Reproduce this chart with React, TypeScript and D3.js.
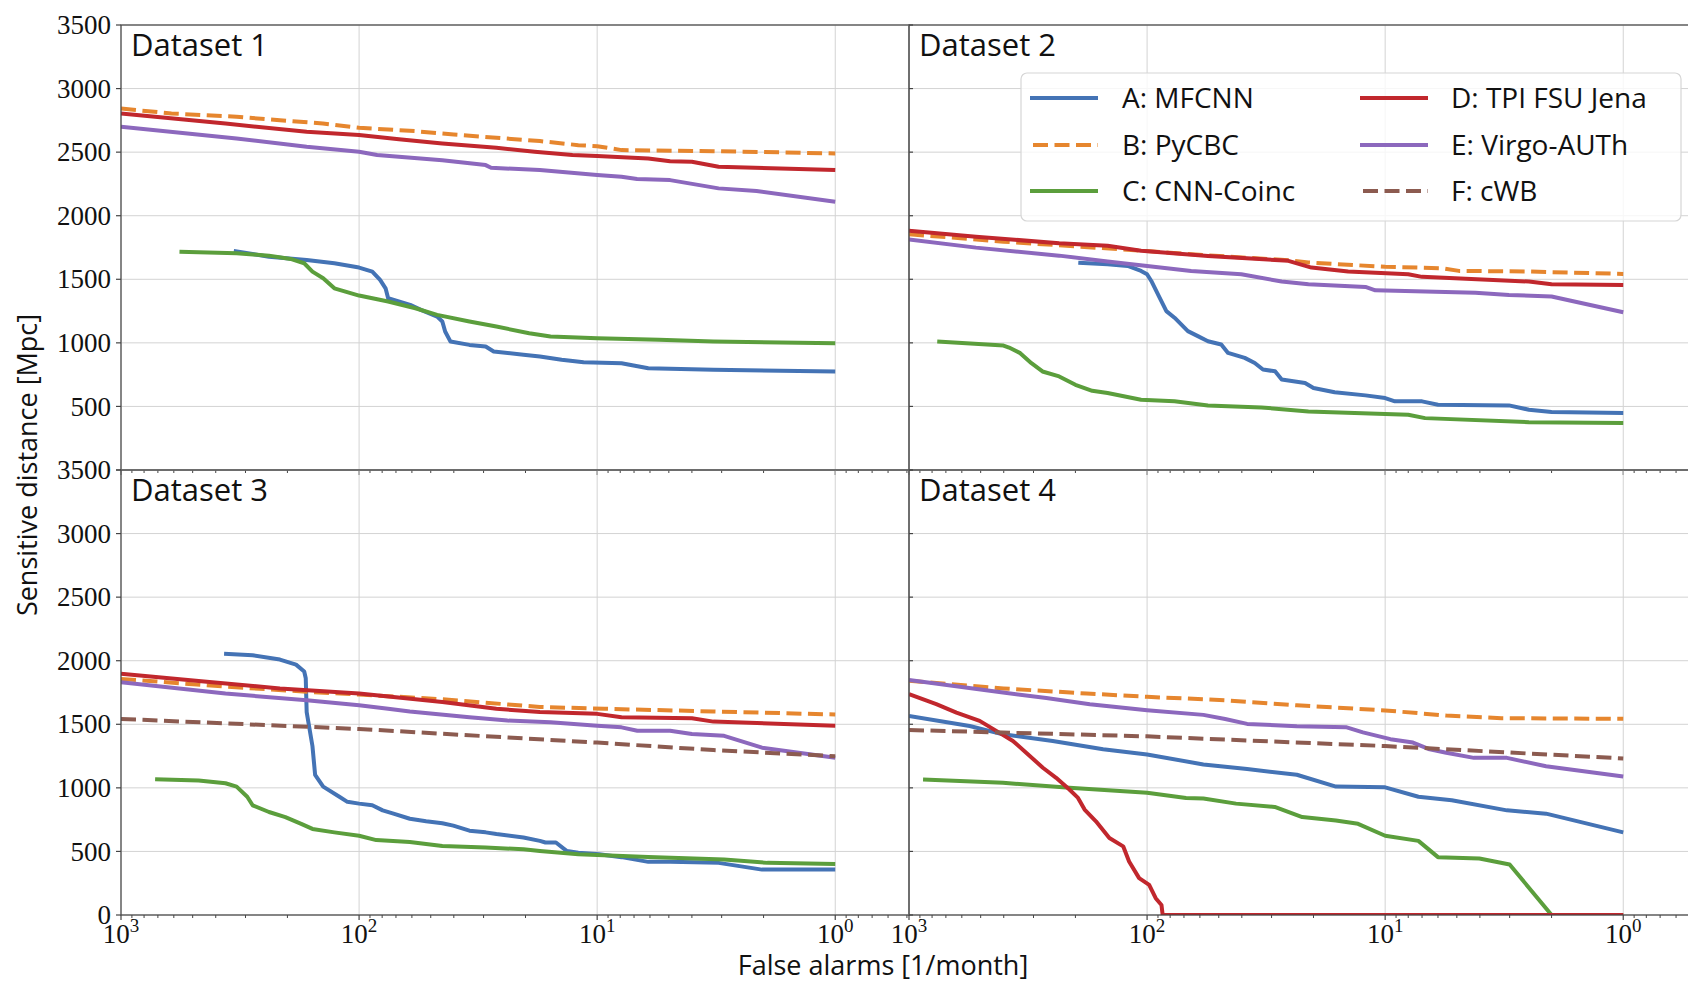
import React from 'react';
import * as d3 from 'd3';

type Pt = [number, number];

// legend / series metadata
const methods = ['A: MFCNN', 'B: PyCBC', 'C: CNN-Coinc', 'D: TPI FSU Jena', 'E: Virgo-AUTh', 'F: cWB'];
const colors = ['#4473b5', '#e6862e', '#5b9e3c', '#c1272d', '#8c68bd', '#8c5b50'];
const dashed = [false, true, false, false, false, true];

const panelTitles = ['Dataset 1', 'Dataset 2', 'Dataset 3', 'Dataset 4'];
const yTicks = [0, 500, 1000, 1500, 2000, 2500, 3000, 3500];
const xTicks = [1000, 100, 10, 1];
const xTickExp = ['3', '2', '1', '0'];

// Dataset 1 (false alarms per month, sensitive distance Mpc)
const d1A: Pt[] = [[336, 1723], [239, 1678], [166, 1652], [127, 1626], [100, 1592], [88, 1560], [81.6, 1495], [77.4, 1429], [75.5, 1351], [61, 1299], [55, 1259], [47, 1207], [44.7, 1168], [43.5, 1089], [41.3, 1010], [34.4, 984], [29.4, 971], [27.2, 932], [20.4, 906], [17.4, 893], [14.1, 867], [11.4, 848], [7.9, 840], [6.1, 801], [3.25, 788], [1, 775]];
const d1B: Pt[] = [[1000, 2843], [614, 2804], [327, 2778], [215, 2751], [142, 2725], [100, 2691], [58, 2665], [40, 2639], [26.5, 2613], [17.4, 2587], [12, 2555], [10, 2547], [7.9, 2516], [3.25, 2508], [1, 2490]];
const d1C: Pt[] = [[568, 1717], [327, 1704], [239, 1686], [194, 1660], [170, 1626], [157, 1560], [141.5, 1508], [127, 1429], [100, 1372], [75.5, 1325], [58, 1272], [47, 1220], [34.4, 1168], [26.5, 1128], [19.3, 1076], [15.7, 1050], [10, 1037], [5.5, 1024], [3.25, 1010], [1, 997]];
const d1D: Pt[] = [[1000, 2804], [364, 2725], [166, 2660], [100, 2634], [68, 2602], [44.7, 2568], [26.5, 2534], [18.3, 2503], [12.7, 2477], [10, 2469], [6.1, 2450], [4.94, 2429], [4.0, 2424], [3.09, 2385], [1, 2359]];
const d1E: Pt[] = [[1000, 2699], [327, 2608], [166, 2542], [100, 2503], [84, 2477], [44.7, 2437], [29.4, 2398], [27.9, 2377], [17.4, 2359], [10, 2320], [7.9, 2306], [6.8, 2288], [4.94, 2280], [3.09, 2215], [2.14, 2194], [1, 2110]];

// Dataset 2
const d2A: Pt[] = [[194.5, 1631], [146.5, 1619], [120.6, 1605], [106, 1566], [100, 1540], [96, 1487], [90, 1382], [83, 1250], [76.7, 1198], [67.4, 1092], [61.2, 1053], [55.5, 1013], [48.8, 987], [45.7, 921], [38.9, 882], [35.3, 842], [32.6, 790], [29, 776], [27.2, 711], [21.7, 684], [20, 645], [16.3, 611], [12.1, 587], [10, 566], [9.1, 540], [7, 540], [6, 513], [3.02, 508], [2.49, 474], [2.0, 456], [1, 448]];
const d2B: Pt[] = [[1000, 1854], [401, 1796], [100, 1722], [55.5, 1688], [25.5, 1650], [21, 1632], [10, 1598], [5.77, 1587], [4.9, 1566], [2.49, 1561], [1, 1542]];
const d2C: Pt[] = [[761, 1010], [401, 979], [380, 963], [341, 919], [306, 840], [275, 775], [234, 736], [200, 670], [170, 623], [146.5, 605], [106, 553], [76.7, 540], [55.5, 508], [33.1, 492], [21, 461], [10, 440], [8.0, 434], [6.8, 408], [2.49, 376], [1, 369]];
const d2D: Pt[] = [[1000, 1882], [523, 1835], [234, 1783], [146.5, 1763], [106, 1724], [55.5, 1684], [25.5, 1645], [20.4, 1592], [14.3, 1561], [8.0, 1540], [7.0, 1519], [2.49, 1482], [2.0, 1461], [1, 1456]];
const d2E: Pt[] = [[1000, 1814], [523, 1749], [234, 1686], [146.5, 1640], [100, 1605], [65.3, 1566], [40.2, 1540], [27.2, 1482], [21, 1461], [12.1, 1440], [11, 1413], [4.18, 1395], [3.02, 1377], [2.0, 1364], [1, 1241]];

// Dataset 3
const d3A: Pt[] = [[369, 2054], [280, 2043], [215, 2009], [184, 1969], [170, 1915], [167.5, 1862], [166, 1596], [157, 1329], [153, 1103], [141.5, 1010], [121, 930], [112, 890], [100, 876], [88, 863], [79.6, 823], [71.7, 797], [61.2, 757], [52.3, 738], [44.7, 722], [40.2, 703], [34.4, 663], [29.4, 650], [26.5, 637], [20.4, 610], [17.4, 583], [16.5, 570], [14.9, 570], [13.4, 503], [12, 490], [9.8, 477], [7.9, 455], [6.1, 418], [4.94, 418], [3.09, 410], [2.03, 357], [1, 357]];
const d3B: Pt[] = [[1000, 1857], [364, 1796], [166, 1756], [100, 1734], [44.7, 1697], [17.4, 1636], [9.3, 1622], [3.25, 1601], [1, 1577]];
const d3C: Pt[] = [[719, 1068], [472, 1058], [364, 1036], [327, 1010], [295, 930], [280, 863], [239, 810], [204, 770], [175, 717], [157, 677], [127, 650], [100, 623], [84.7, 589], [61.2, 575], [44.7, 543], [29.4, 530], [20.4, 517], [17.4, 503], [12, 477], [6.1, 456], [2.93, 437], [1.93, 410], [1, 402]];
const d3D: Pt[] = [[1000, 1897], [472, 1841], [215, 1782], [100, 1742], [44.7, 1676], [26.5, 1622], [17.4, 1596], [10, 1582], [7.9, 1556], [4.0, 1548], [3.25, 1521], [1, 1489]];
const d3E: Pt[] = [[1000, 1830], [364, 1742], [166, 1689], [100, 1649], [75.5, 1622], [61.2, 1601], [34.4, 1556], [23.8, 1529], [15.7, 1516], [10, 1489], [7.9, 1476], [6.78, 1449], [4.94, 1449], [4.0, 1423], [2.93, 1409], [2.03, 1316], [1, 1236]];
const d3F: Pt[] = [[1000, 1542], [100, 1463], [10, 1356], [3.25, 1297], [1, 1249]];

// Dataset 4
const d4A: Pt[] = [[1000, 1566], [556, 1487], [403, 1421], [249, 1369], [153, 1303], [100, 1263], [58, 1184], [38, 1148], [23.5, 1103], [16.1, 1010], [10, 1004], [7.25, 930], [5.25, 903], [3.08, 823], [2.11, 797], [1, 650]];
const d4B: Pt[] = [[1000, 1842], [401, 1782], [179.5, 1742], [100, 1716], [47, 1689], [23.5, 1649], [10, 1609], [5.54, 1569], [3.25, 1548], [1, 1543]];
const d4C: Pt[] = [[873, 1066], [403, 1040], [212, 1000], [100, 961], [68.6, 921], [58, 916], [42.3, 876], [29.1, 850], [22.3, 770], [16.1, 743], [13, 717], [10, 623], [7.25, 583], [6.0, 455], [4.02, 444], [3.0, 397], [2.0, 0], [1, 0]];
const d4D: Pt[] = [[1000, 1737], [768, 1658], [632, 1592], [505, 1527], [430, 1448], [366, 1369], [322, 1277], [274, 1158], [241, 1079], [212, 987], [195, 921], [183, 829], [164, 737], [144, 605], [126, 540], [119, 421], [108, 290], [98, 237], [92, 132], [87, 79], [86, 0], [1, 0]];
const d4E: Pt[] = [[1000, 1848], [403, 1750], [265, 1706], [174, 1658], [100, 1611], [58, 1574], [47, 1542], [38, 1503], [23.5, 1484], [14.5, 1476], [12.4, 1436], [9.5, 1383], [7.64, 1356], [6.5, 1303], [5.54, 1276], [4.24, 1236], [3.08, 1236], [2.11, 1170], [1, 1090]];
const d4F: Pt[] = [[1000, 1455], [100, 1405], [10, 1329], [1, 1231]];

const datasets: (Pt[] | null)[][] = [
  [d1A, d1B, d1C, d1D, d1E, null],
  [d2A, d2B, d2C, d2D, d2E, null],
  [d3A, d3B, d3C, d3D, d3E, d3F],
  [d4A, d4B, d4C, d4D, d4E, d4F],
];

const W = 1696;
const H = 982;
const colX = [113, 901, 1689];
const rowY = [17, 462, 907];

const SANS = '"Open Sans", "Noto Sans", sans-serif';
const SERIF = '"Liberation Serif", "DejaVu Serif", serif';

// minor ticks of the log axis: 2..9 per decade, plus 0.5..0.9 below 1
const minorTicks: number[] = [];
[0.1, 1, 10, 100].forEach((dec) => {
  for (let m = 2; m <= 9; m++) {
    const v = m * dec;
    if (v >= 0.49 && v < 1000) minorTicks.push(v);
  }
});

const Panel: React.FC<{ idx: number }> = ({ idx }) => {
  const col = idx % 2;
  const row = Math.floor(idx / 2);
  const x0 = colX[col], x1 = colX[col + 1];
  const y0 = rowY[row], y1 = rowY[row + 1];

  const x = d3.scaleLog().domain([1000, 0.49]).range([x0, x1]);
  const y = d3.scaleLinear().domain([0, 3500]).range([y1, y0]);
  const line = d3.line<Pt>().x((d) => x(d[0])).y((d) => y(d[1]));
  const clipId = `clip-${idx}`;
  const shownY = row === 0 ? yTicks.filter((t) => t > 0) : yTicks;

  return (
    <g>
      <defs>
        <clipPath id={clipId}>
          <rect x={x0} y={y0} width={x1 - x0} height={y1 - y0} />
        </clipPath>
      </defs>
      {/* grid */}
      {xTicks.map((t) => (
        <line key={`gx${t}`} x1={x(t)} x2={x(t)} y1={y0} y2={y1} stroke="#d3d3d3" strokeWidth={1} />
      ))}
      {yTicks.map((t) => (
        <line key={`gy${t}`} x1={x0} x2={x1} y1={y(t)} y2={y(t)} stroke="#d3d3d3" strokeWidth={1} />
      ))}
      {/* series */}
      <g clipPath={`url(#${clipId})`}>
        {datasets[idx].map((data, i) =>
          data ? (
            <path
              key={i}
              d={line(data) || ''}
              fill="none"
              stroke={colors[i]}
              strokeWidth={4}
              strokeLinejoin="round"
              strokeDasharray={dashed[i] ? '15 6.5' : undefined}
            />
          ) : null
        )}
      </g>
      {/* frame */}
      <rect x={x0} y={y0} width={x1 - x0} height={y1 - y0} fill="none" stroke="#444" strokeWidth={1.2} />
      {/* x ticks */}
      {xTicks.map((t) => (
        <line key={`tx${t}`} x1={x(t)} x2={x(t)} y1={y1} y2={y1 + 5} stroke="#444" strokeWidth={1.2} />
      ))}
      {minorTicks.map((t) => (
        <line key={`mx${t}`} x1={x(t)} x2={x(t)} y1={y1} y2={y1 + 3} stroke="#444" strokeWidth={1} />
      ))}
      {/* y ticks */}
      {yTicks.map((t) =>
        col === 0 ? (
          <line key={`ty${t}`} x1={x0 - 5} x2={x0} y1={y(t)} y2={y(t)} stroke="#444" strokeWidth={1.2} />
        ) : (
          <line key={`ty${t}`} x1={x0} x2={x0 + 4} y1={y(t)} y2={y(t)} stroke="#444" strokeWidth={1.2} />
        )
      )}
      {col === 0 &&
        shownY.map((t) => (
          <text
            key={`ly${t}`}
            x={x0 - 10}
            y={y(t)}
            dy="0.34em"
            textAnchor="end"
            fontFamily={SERIF}
            fontSize={27}
            fill="#111"
          >
            {t}
          </text>
        ))}
      {row === 1 &&
        xTicks.map((t, i) => (
          <text key={`lx${t}`} x={x(t)} y={935} textAnchor="middle" fontFamily={SERIF} fontSize={27} fill="#111">
            10
            <tspan fontSize={19} dy={-11}>
              {xTickExp[i]}
            </tspan>
          </text>
        ))}
      <text x={x0 + 10} y={y0 + 31} fontFamily={SANS} fontSize={31} fill="#111">
        {panelTitles[idx]}
      </text>
    </g>
  );
};

const Legend: React.FC = () => {
  const lx = 1013, ly = 65, lw = 660, lh = 148;
  const colStart = [1022, 1352];
  const textStart = [1114, 1443];
  const rowC = [90, 137, 183];
  return (
    <g>
      <rect x={lx} y={ly} width={lw} height={lh} rx={6} fill="white" fillOpacity={0.8} stroke="#d6d6d6" strokeWidth={1.2} />
      {methods.map((m, i) => {
        const c = Math.floor(i / 3);
        const r = i % 3;
        return (
          <g key={m}>
            <line
              x1={colStart[c] + (dashed[i] ? 3 : 0)}
              x2={colStart[c] + 68}
              y1={rowC[r]}
              y2={rowC[r]}
              stroke={colors[i]}
              strokeWidth={4}
              strokeDasharray={dashed[i] ? '15 6.5' : undefined}
            />
            <text x={textStart[c]} y={rowC[r]} dy="0.36em" fontFamily={SANS} fontSize={28} fill="#111">
              {m}
            </text>
          </g>
        );
      })}
    </g>
  );
};

export default function App() {
  return (
    <svg width={W} height={H} style={{ display: 'block', background: 'white' }}>
      {[0, 1, 2, 3].map((i) => (
        <Panel key={i} idx={i} />
      ))}
      <Legend />
      <text x={875} y={967} textAnchor="middle" fontFamily={SANS} fontSize={27} fill="#111">
        False alarms [1/month]
      </text>
      <text
        transform="translate(29,457) rotate(-90)"
        textAnchor="middle"
        fontFamily={SANS}
        fontSize={27}
        fill="#111"
      >
        Sensitive distance [Mpc]
      </text>
    </svg>
  );
}
